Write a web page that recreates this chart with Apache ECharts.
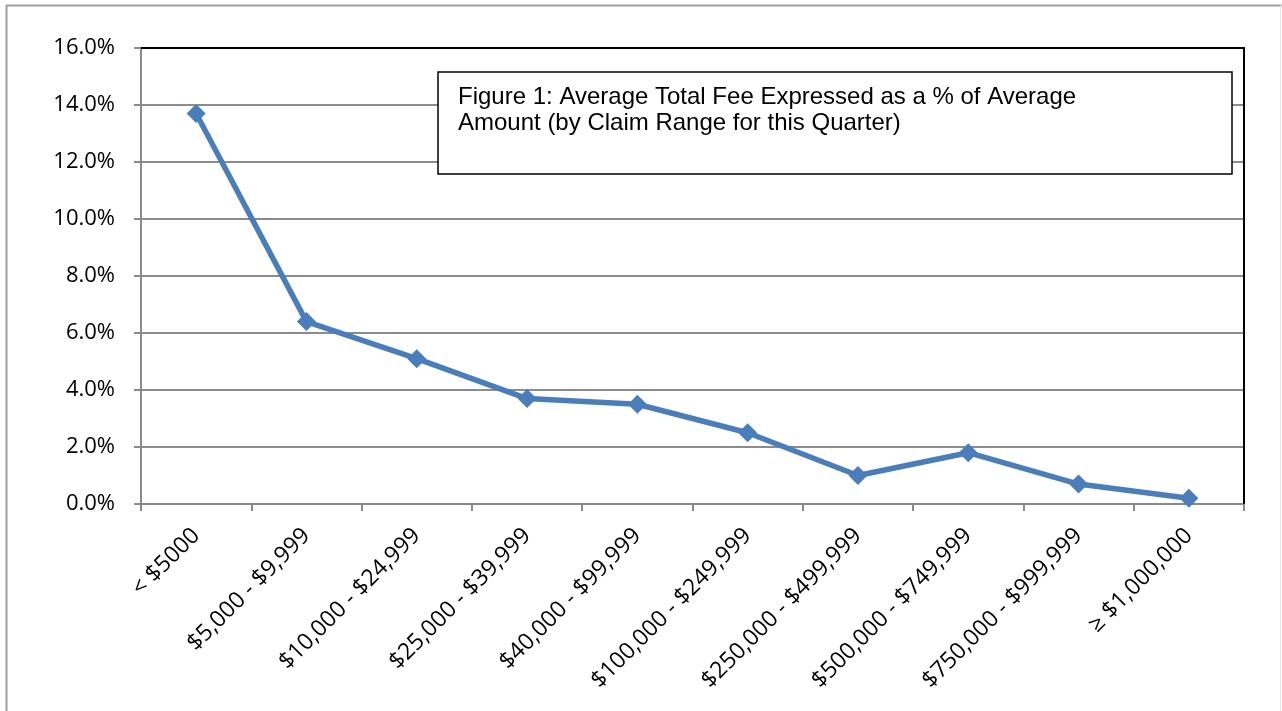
<!DOCTYPE html>
<html>
<head>
<meta charset="utf-8">
<script src="https://cdn.jsdelivr.net/npm/echarts@6/dist/echarts.min.js"></script>
<style>
html,body{margin:0;padding:0;background:#fff;}
#chart{width:1282px;height:711px;}
</style>
</head>
<body>
<div id="chart"></div>
<script>
const categories = ['< $5000', '$5,000 - $9,999', '$10,000 - $24,999', '$25,000 - $39,999', '$40,000 - $99,999', '$100,000 - $249,999', '$250,000 - $499,999', '$500,000 - $749,999', '$750,000 - $999,999', '≥ $1,000,000'];
const feePercent = [13.7, 6.4, 5.1, 3.7, 3.5, 2.5, 1.0, 1.8, 0.7, 0.2];
const titleLines = ['Figure 1: Average Total Fee Expressed as a % of Average', 'Amount (by Claim Range for this Quarter)'];

const chart = echarts.init(document.getElementById('chart'), null, {renderer: 'canvas'});
const gridLeft = 141, gridTop = 48, gridRight = 38, gridBottom = 207;
const W = 1282, H = 711;
chart.setOption({
  animation: false,
  backgroundColor: '#fff',
  grid: {left: gridLeft, right: gridRight, top: gridTop, bottom: gridBottom},
  xAxis: {
    type: 'category',
    data: categories,
    boundaryGap: true,
    axisLine: {lineStyle: {color: '#898989', width: 2}},
    axisTick: {show: true, alignWithLabel: false, length: 7, lineStyle: {color: '#898989', width: 2}},
    axisLabel: {rotate: 45, interval: 0, margin: 28, color: '#000', fontFamily: 'Open Sans', fontSize: 23}
  },
  yAxis: {
    type: 'value',
    min: 0, max: 16, interval: 2,
    axisLine: {show: true, lineStyle: {color: '#898989', width: 2}},
    axisTick: {show: true, length: 7, lineStyle: {color: '#898989', width: 2}},
    splitLine: {show: true, lineStyle: {color: '#8c8c8c', width: 2}},
    axisLabel: {formatter: v => v.toFixed(1) + '%', margin: 26, color: '#000', fontFamily: 'Open Sans', fontSize: 22}
  },
  series: [{
    type: 'line',
    data: feePercent,
    symbol: 'diamond',
    symbolSize: 19,
    showSymbol: true,
    lineStyle: {color: '#4a7ebb', width: 5.5},
    itemStyle: {color: '#4a7ebb'},
    z: 5
  }],
  graphic: [
    {type: 'line', z: 100, shape: {x1: 6.5, y1: 5, x2: 6.5, y2: H}, style: {stroke: '#a0a0a0', lineWidth: 2}},
    {type: 'line', z: 100, shape: {x1: 6, y1: 5.5, x2: W, y2: 5.5}, style: {stroke: '#a0a0a0', lineWidth: 2}},
    {type: 'line', z: 100, shape: {x1: 1280.5, y1: 5, x2: 1280.5, y2: H}, style: {stroke: '#e4e4e4', lineWidth: 1}},
    {type: 'polyline', z: 100, shape: {points: [[gridLeft, gridTop], [W - gridRight, gridTop], [W - gridRight, H - gridBottom]]}, style: {stroke: '#000', lineWidth: 2, fill: null}},
    {type: 'rect', z: 100, shape: {x: 438, y: 72, width: 794, height: 102}, style: {fill: '#fff', stroke: '#000', lineWidth: 1.5}},
    {type: 'text', z: 101, left: 458, top: 84, style: {text: titleLines.join('\n'), fill: '#000', font: '24px "Liberation Sans", Arial, sans-serif', lineHeight: 26}}
  ]
});
</script>
</body>
</html>
